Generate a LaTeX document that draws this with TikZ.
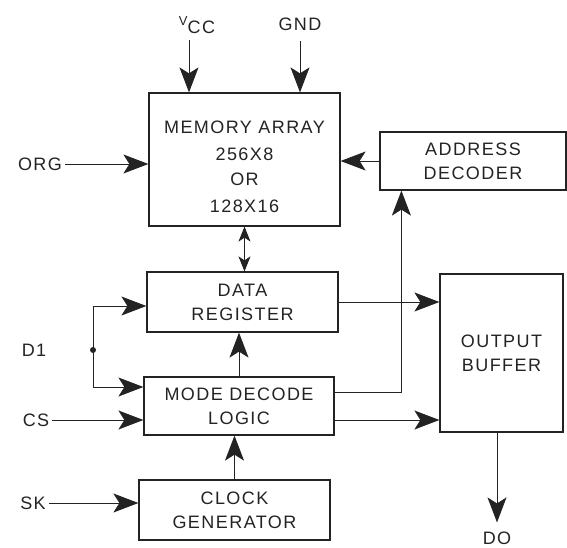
\documentclass[tikz,border=0pt]{standalone}
\usepackage{fontspec}
\newfontfamily\draftfont[LetterSpace=8]{Liberation Sans}
\usepackage{tikz}
\usetikzlibrary{arrows.meta}
\usepackage{xcolor}
\definecolor{inkcol}{RGB}{35,35,35}
\tikzset{
  % functional block
  blk/.style={rectangle, draw=inkcol, line width=1.2pt, align=center, text=inkcol,
              font=\draftfont\fontsize{18}{24}\selectfont, inner sep=0pt},
  % pin name
  pinlabel/.style={text=inkcol, align=center, font=\draftfont\fontsize{18}{24}\selectfont, inner sep=3pt},
  % signal line
  flow/.style={-{Stealth[length=25pt,width=19pt,inset=6pt]}, draw=inkcol, line width=0.9pt},
  % bidirectional bus
  bus/.style={{Stealth[length=15pt,width=12pt,inset=4pt]}-{Stealth[length=15pt,width=12pt,inset=4pt]},
              draw=inkcol, line width=0.9pt},
  % junction dot
  jdot/.style={circle, fill=inkcol, inner sep=0pt, minimum size=6pt},
}

\begin{document}
\begin{tikzpicture}[x=1pt,y=-1pt]
  \useasboundingbox (0,0) rectangle (567,548);
  % blocks
  \node[blk, minimum width=191pt, minimum height=133pt] (mem) at (244.5,159.5) {};
  \node[pinlabel] (memtxt) at (244.5,167) {MEMORY ARRAY\\[3pt]256X8\\[1pt]OR\\[3pt]128X16};
  \node[blk, minimum width=186pt, minimum height=58pt] (addr) at (473,161) {ADDRESS\\DECODER};
  \node[blk, minimum width=191pt, minimum height=60pt] (datareg) at (242.5,302) {DATA\\REGISTER};
  \node[blk, minimum width=190pt, minimum height=58pt] (mode) at (239,406) {MODE DECODE\\LOGIC};
  \node[blk, minimum width=191pt, minimum height=60pt] (clock) at (234.5,510) {CLOCK\\GENERATOR};
  \node[blk, minimum width=123pt, minimum height=158pt] (outbuf) at (501.5,353) {OUTPUT\\BUFFER};
  % pins
  \node[pinlabel] (vcc) at (197,25) {\raisebox{8pt}{\fontsize{13}{13}\selectfont V}CC};
  \node[pinlabel] (gnd) at (300,24) {GND};
  \node[pinlabel] (org) at (40,164) {ORG};
  \node[pinlabel] (d1) at (34,350) {D1};
  \node[pinlabel] (cs) at (36,420) {CS};
  \node[pinlabel] (sk) at (33,503) {SK};
  \node[pinlabel] (dout) at (497,538) {DO};
  \node[jdot] (dsplit) at (93,350) {};
  % connections
  \draw[flow, shorten <=3pt] ([xshift=-8pt]vcc.south) -- ([xshift=-8pt]vcc.south |- mem.north);
  \draw[flow, shorten <=7pt] (gnd.south) -- (gnd.south |- mem.north);
  \draw[flow] (org.east) -- (org.east -| mem.west);
  \draw[flow] (addr.west) -- (addr.west -| mem.east);
  \draw[bus] (mem.south) -- (mem.south |- datareg.north);
  \draw[flow] (dsplit.center) |- ([yshift=-4pt]datareg.west);
  \draw[flow] (dsplit.center) |- ([yshift=19pt]mode.west);
  \draw[flow] (cs.east) -- (cs.east -| mode.west);
  \draw[flow] (mode.north) -- (mode.north |- datareg.south);
  \draw[flow] (clock.north) -- (clock.north |- mode.south);
  \draw[flow] (sk.east) -- (sk.east -| clock.west);
  \draw[flow] (datareg.east) -- (datareg.east -| outbuf.west);
  \draw[flow] ([yshift=14pt]mode.east) -| ([xshift=22pt]addr.south west);
  \draw[flow] ([yshift=-14pt]mode.east) -- ([yshift=-14pt]mode.east -| outbuf.west);
  \draw[flow, shorten >=6pt] (outbuf.south -| dout.north) -- (dout.north);
\end{tikzpicture}
\end{document}
